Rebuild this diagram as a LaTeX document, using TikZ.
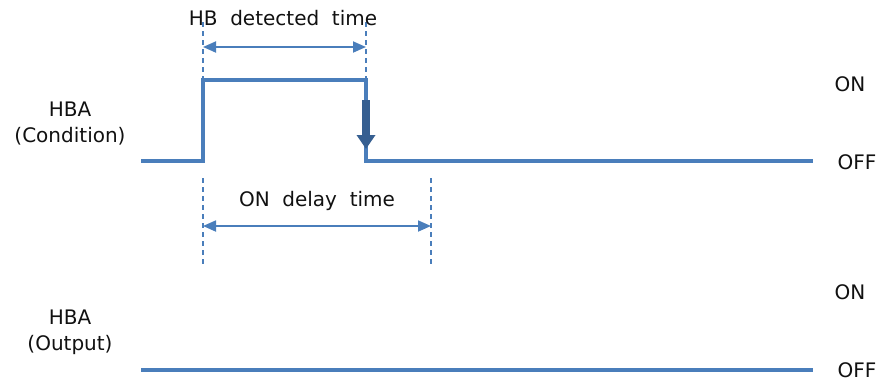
\documentclass[tikz,border=0pt]{standalone}
\usepackage{fontspec}
\setmainfont{DejaVu Sans}
\usetikzlibrary{arrows.meta}
\definecolor{wave}{HTML}{4A7EBB}
\definecolor{dark}{HTML}{365F91}
\definecolor{txt}{HTML}{111111}
\begin{document}
\begin{tikzpicture}[x=1pt,y=-1pt,
  signal/.style={draw=wave,line width=3.2pt,line join=miter},
  guide/.style={draw=wave,line width=1.4pt,dash pattern=on 5pt off 4pt},
  span/.style={draw=wave,line width=1.8pt,{Triangle[length=13pt,width=11pt]}-{Triangle[length=13pt,width=11pt]}},
  lbl/.style={font=\fontsize{20}{24}\selectfont,text=txt,inner sep=0pt},
  biglbl/.style={font=\fontsize{20}{26}\selectfont,text=txt,inner sep=0pt,align=center}]
\useasboundingbox (0,0) rectangle (881,381);
% waveform coordinates
\coordinate (c0) at (141,161);
\coordinate (r0) at (203,161);
\coordinate (r1) at (203,80);
\coordinate (f1) at (366,80);
\coordinate (f0) at (366,161);
\coordinate (c1) at (813,161);
\coordinate (o0) at (141,370);
\coordinate (o1) at (813,370);
\draw[signal] (c0) -- (r0) -- (r1) -- (f1) -- (f0) -- (c1);
\draw[signal] (o0) -- (o1);
% guides
\coordinate (ga) at (203,22);
\coordinate (gb) at (366,22);
\coordinate (gc) at (203,178);
\coordinate (gd) at (203,264);
\coordinate (ge) at (431,178);
\coordinate (gf) at (431,264);
\draw[guide] (ga) -- (r1);
\draw[guide] (gb) -- (f1);
\draw[guide] (gc) -- (gd);
\draw[guide] (ge) -- (gf);
\coordinate (a1) at (203,47);
\coordinate (a2) at (366,47);
\coordinate (b1) at (203,226);
\coordinate (b2) at (431,226);
\draw[span] (a1) -- (a2);
\draw[span] (b1) -- (b2);
% thick arrow
\coordinate (t0) at (366,100);
\coordinate (t1) at (366,149);
\draw[draw=dark,line width=8pt,-{Triangle[length=14pt,width=18pt]}] (t0) -- (t1);
% labels
\node[lbl] (hb) at (283,18) {HB\ \ detected\ \ time};
\node[lbl] (od) at (317,201) {ON\ \ delay\ \ time};
\node[biglbl] (hc) at (70,124) {HBA\\(Condition)};
\node[biglbl] (ho) at (70,332) {HBA\\(Output)};
\node[lbl] (on1) at (850,84) {ON};
\node[lbl] (off1) at (857,162) {OFF};
\node[lbl] (on2) at (850,292) {ON};
\node[lbl] (off2) at (857,370) {OFF};
\end{tikzpicture}
\end{document}
